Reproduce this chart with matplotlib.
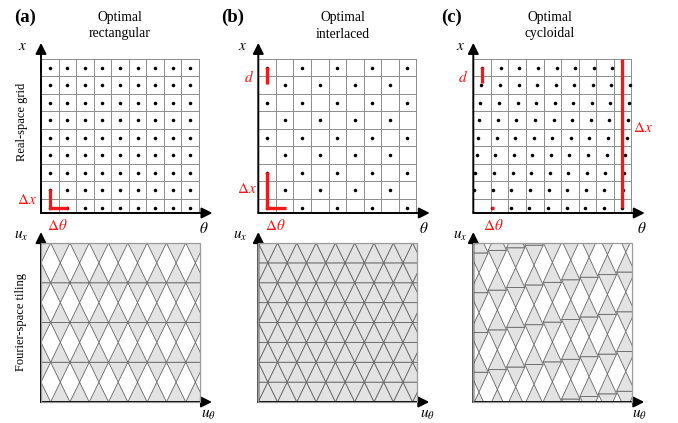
import matplotlib
matplotlib.use('Agg')
import matplotlib.pyplot as plt
from matplotlib.patches import Polygon, Rectangle

W, H = 678, 423
plt.rcParams['mathtext.fontset'] = 'stix'
plt.rcParams['font.family'] = ['Liberation Serif', 'DejaVu Serif']

# ---------------- data ----------------
panel_labels = ['(a)', '(b)', '(c)']
title_line1 = ['Optimal', 'Optimal', 'Optimal']
title_line2 = ['rectangular', 'interlaced', 'cycloidal']
n_cols = 9
n_rows = 9
# cycloidal real-space grid: first-dot offset of each row (in cells, bottom row first) and dot pitch
cyc_row_offsets = [0.02, 0.06, 0.12, 0.19, 0.27, 0.34, 0.41, 0.46, 0.51]
cyc_pitch = 1.058
# red markers (cell units): polylines per panel
red_marks = {
    0: [[(0.5, 1.35), (0.5, 0.3), (1.55, 0.3)]],
    1: [[(0.5, 8.35), (0.5, 7.35)], [(0.5, 2.35), (0.5, 0.3), (1.6, 0.3)]],
    2: [[(0.48, 8.35), (0.48, 7.45)], [(1.03, 0.3), (1.17, 0.3)], [(8.45, 8.8), (8.45, 0.3)]],
}
# Fourier tiling: bow-tie centres (period units, band-half-height units)
rect_bowtie_cols = list(range(0, 10))
rect_bowtie_rows = [1, 3, 5, 7]
inter_rows_even = [0, 2, 4, 6, 8]
inter_rows_odd = [1, 3, 5, 7]
cyc_col_centres = [0.50, 0.63, 0.76, 0.89, 1.02, 1.15, 1.28, 1.41, 1.54]
cyc_band_rows = [-2, 0, 2, 4, 6, 8]

# ---------------- layout helpers ----------------
fig = plt.figure(figsize=(W / 100, H / 100), dpi=100)

def px_axes(x0, y0, x1, y1):
    ax = fig.add_axes([x0 / W, 1 - y1 / H, (x1 - x0) / W, (y1 - y0) / H])
    ax.set_axis_off()
    return ax

def ftext(x, y, s, **kw):
    fig.text(x / W, 1 - y / H, s, **kw)

RED = '#f01818'
GRIDC = '#8c8c8c'
FILLC = '#e3e3e3'
EDGEC = '#666666'
panel_x0 = [41, 258.3, 473.3]
PW = 158.5

arrow_kw = dict(arrowstyle='-|>', lw=1.4, color='black', mutation_scale=16,
                shrinkA=0, shrinkB=0)

# ---------------- top row: real-space grids ----------------
for p in range(3):
    x0 = panel_x0[p]
    ax = px_axes(x0, 59, x0 + PW, 213)
    ax.set_xlim(0, 9.03)
    ax.set_ylim(0, 8.8)
    for c in range(n_cols + 1):
        ax.plot([c, c], [0, 8.8], color=GRIDC, lw=0.7, clip_on=False)
    for j in range(n_rows):
        ax.plot([0, 9], [0.8 + j, 0.8 + j], color=GRIDC, lw=0.7)
    xs, ys = [], []
    for r in range(n_rows):
        if p == 0:
            for c in range(n_cols):
                xs.append(c + 0.5); ys.append(r + 0.3)
        elif p == 1:
            for c in range(n_cols):
                if (c + r) % 2 == 0:
                    xs.append(c + 0.5); ys.append(r + 0.3)
        else:
            m = 0
            while cyc_row_offsets[r] + m * cyc_pitch < 8.95:
                xv = cyc_row_offsets[r] + m * cyc_pitch
                if xv > 0.04:
                    xs.append(xv); ys.append(r + 0.3)
                m += 1
    ax.scatter(xs, ys, s=6.5, color='black', zorder=3, linewidths=0)
    for line in red_marks[p]:
        ax.plot([q[0] for q in line], [q[1] for q in line], color=RED, lw=2.4,
                solid_capstyle='butt', solid_joinstyle='miter', zorder=4, clip_on=False)
    ax.annotate('', xy=(0, 9.72), xytext=(0, 0), arrowprops=arrow_kw, annotation_clip=False)
    ax.annotate('', xy=(9.77, 0), xytext=(0, 0), arrowprops=arrow_kw, annotation_clip=False)

# ---------------- bottom row: Fourier tilings ----------------
def bowtie(ax, uc, vc):
    for sgn in (-1, 1):
        tri = Polygon([(uc - 0.5, vc + sgn), (uc + 0.5, vc + sgn), (uc, vc)], closed=True,
                      facecolor=FILLC, edgecolor=EDGEC, lw=0.6, joinstyle='miter')
        ax.add_patch(tri)

for p in range(3):
    x0 = panel_x0[p]
    ax = px_axes(x0, 243, x0 + PW, 402)
    if p < 2:
        P = 19.3
        ax.set_xlim(0, PW / P)
    else:
        P = 18.35
        ax.set_xlim(-0.31, PW / P - 0.31)
    ax.set_ylim(0, 8)
    if p == 0:
        for k in rect_bowtie_cols:
            for v in rect_bowtie_rows:
                bowtie(ax, k, v)
    elif p == 1:
        for k in rect_bowtie_cols:
            for v in inter_rows_even:
                bowtie(ax, k, v)
            for v in inter_rows_odd:
                bowtie(ax, k + 0.5, v)
    else:
        for k, cc in enumerate(cyc_col_centres):
            for v in cyc_band_rows:
                bowtie(ax, k, cc + v)
    xl = ax.get_xlim()
    ax.add_patch(Rectangle((xl[0], 0), xl[1] - xl[0], 8, fill=False, edgecolor='#9a9a9a',
                           lw=0.9, zorder=5, clip_on=False))
    ax.annotate('', xy=(xl[0], 8.55), xytext=(xl[0], 0), arrowprops=arrow_kw, annotation_clip=False)
    ax.annotate('', xy=(xl[0] + (171 / P), 0), xytext=(xl[0], 0), arrowprops=arrow_kw,
                annotation_clip=False)

# ---------------- texts ----------------
label_x = [25, 232.5, 451]
title_x = [120, 343, 550]
for p in range(3):
    ftext(label_x[p], 17, panel_labels[p], fontsize=13.5, fontweight='bold', ha='center', va='center')
    ftext(title_x[p], 17, title_line1[p], fontsize=9.8, ha='center', va='center')
    ftext(title_x[p], 34, title_line2[p], fontsize=9.8, ha='center', va='center')

xlab_x = [23, 243, 461]
th_x = [204, 424, 642]
ux_x = [21, 240, 460]
ut_x = [208, 427, 639]
dth_x = [57, 275, 493]
for p in range(3):
    ftext(xlab_x[p], 46, '$x$', fontsize=11, ha='center', va='center')
    ftext(th_x[p], 228, r'$\theta$', fontsize=11, ha='center', va='center')
    ftext(ux_x[p], 236, '$u_x$', fontsize=11, ha='center', va='center')
    ftext(ut_x[p], 415, r'$u_\theta$', fontsize=11, ha='center', va='center')
    ftext(dth_x[p], 225, r'$\Delta\theta$', fontsize=11, ha='center', va='center', color=RED)

ftext(27, 200, r'$\Delta x$', fontsize=11, ha='center', va='center', color=RED)
ftext(247, 189, r'$\Delta x$', fontsize=11, ha='center', va='center', color=RED)
ftext(643, 128, r'$\Delta x$', fontsize=11, ha='center', va='center', color=RED)
ftext(249, 77, '$d$', fontsize=11, ha='center', va='center', color=RED)
ftext(463, 77, '$d$', fontsize=11, ha='center', va='center', color=RED)

ftext(22, 122, 'Real-space grid', fontsize=9, rotation=90, ha='center', va='center')
ftext(21, 322, 'Fourier-space tiling', fontsize=9, rotation=90, ha='center', va='center')

fig.savefig('out.png', dpi=100)
